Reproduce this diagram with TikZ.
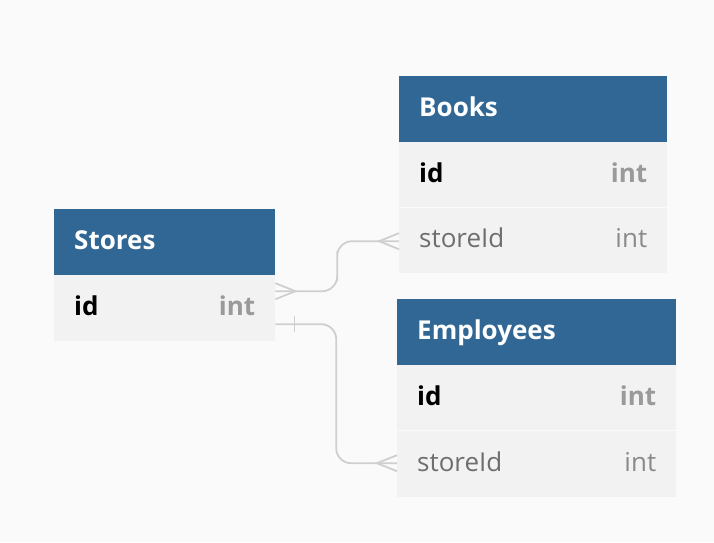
\documentclass[tikz,border=0pt]{standalone}
\usepackage{fontspec}
\setmainfont{Open Sans}
\usetikzlibrary{calc}
\definecolor{bg}{HTML}{FAFAFA}
\definecolor{hdr}{HTML}{306795}
\definecolor{rowc}{HTML}{F2F2F2}
\definecolor{conn}{HTML}{CFCFCF}
\definecolor{typeb}{HTML}{9A9A9A}
\definecolor{fieldg}{HTML}{6E6E6E}
\definecolor{typeg}{HTML}{8A8A8A}
\tikzset{
  hdrbox/.style={fill=hdr, draw=none, inner sep=0pt, anchor=north west, minimum height=66pt},
  rowbox/.style={fill=rowc, draw=none, inner sep=0pt, anchor=north west, minimum height=66pt},
  title/.style={font=\fontsize{26}{30}\selectfont\bfseries, text=white, anchor=base west, inner sep=0pt},
  keyname/.style={font=\fontsize{26}{30}\selectfont\bfseries, text=black, anchor=base west, inner sep=0pt},
  keytype/.style={font=\fontsize{26}{30}\selectfont\bfseries, text=typeb, anchor=base east, inner sep=0pt},
  fname/.style={font=\fontsize{26}{30}\selectfont, text=fieldg, anchor=base west, inner sep=0pt},
  ftype/.style={font=\fontsize{26}{30}\selectfont, text=typeg, anchor=base east, inner sep=0pt},
  link/.style={draw=conn, line width=1.8pt},
}
\begin{document}
\begin{tikzpicture}[x=1pt,y=-1pt]
\fill[bg] (0,0) rectangle (714,542);
\useasboundingbox (0,0) rectangle (714,542);
% Stores
\node[hdrbox, minimum width=221pt] (sh) at (54,209) {};
\node[rowbox, minimum width=221pt, minimum height=66pt] (sid) at (54,275) {};
\node[title] (sht) at ($(sh.west)+(20,7.3)$) {Stores};
\node[keyname] (sidn) at ($(sid.west)+(20,7.3)$) {id};
\node[keytype] (sidt) at ($(sid.east)+(-20,7.3)$) {int};
% Books
\node[hdrbox, minimum width=268pt] (bh) at (399,76) {};
\node[rowbox, minimum width=268pt, minimum height=65pt] (bid) at (399,142) {};
\node[rowbox, minimum width=268pt, minimum height=66pt] (bsi) at (399,207) {};
\draw[white!60!rowc, line width=1pt] (bsi.north west) -- (bsi.north east);
\node[title] (bht) at ($(bh.west)+(20,7.3)$) {Books};
\node[keyname] (bidn) at ($(bid.west)+(20,7.3)$) {id};
\node[keytype] (bidt) at ($(bid.east)+(-20,7.3)$) {int};
\node[fname] (bsin) at ($(bsi.west)+(20,7.3)$) {storeId};
\node[ftype] (bsit) at ($(bsi.east)+(-20,7.3)$) {int};
% Employees
\node[hdrbox, minimum width=279pt] (eh) at (397,299) {};
\node[rowbox, minimum width=279pt, minimum height=65pt] (eid) at (397,365) {};
\node[rowbox, minimum width=279pt, minimum height=67pt] (esi) at (397,430) {};
\draw[white!60!rowc, line width=1pt] (esi.north west) -- (esi.north east);
\node[title] (eht) at ($(eh.west)+(20,7.3)$) {Employees};
\node[keyname] (eidn) at ($(eid.west)+(20,7.3)$) {id};
\node[keytype] (eidt) at ($(eid.east)+(-20,7.3)$) {int};
\node[fname] (esin) at ($(esi.west)+(20,7.3)$) {storeId};
\node[ftype] (esit) at ($(esi.east)+(-20,7.3)$) {int};
% connector endpoints
\coordinate (p1) at ($(sid.east)+(0,-17)$);
\coordinate (q1) at ($(bsi.west)+(0,1)$);
\coordinate (p2) at ($(sid.east)+(0,16)$);
\coordinate (q2) at ($(esi.west)+(0,-0.5)$);
% Stores -> Books (many to many)
\draw[link, rounded corners=15pt] (p1) -| ($(p1)!.5!(q1)$) |- (q1);
\draw[link] ($(p1)+(0,-8)$) -- ($(p1)+(20,0)$) -- ($(p1)+(0,8)$);
\draw[link] ($(q1)+(0,-8)$) -- ($(q1)+(-20,0)$) -- ($(q1)+(0,8)$);
% Stores -> Employees (one to many)
\draw[link, rounded corners=15pt] (p2) -| ($(p2)!.5!(q2)$) |- (q2);
\draw[link] ($(p2)+(19,-8)$) -- ($(p2)+(19,8)$);
\draw[link] ($(q2)+(0,-8)$) -- ($(q2)+(-20,0)$) -- ($(q2)+(0,8)$);
\end{tikzpicture}
\end{document}
